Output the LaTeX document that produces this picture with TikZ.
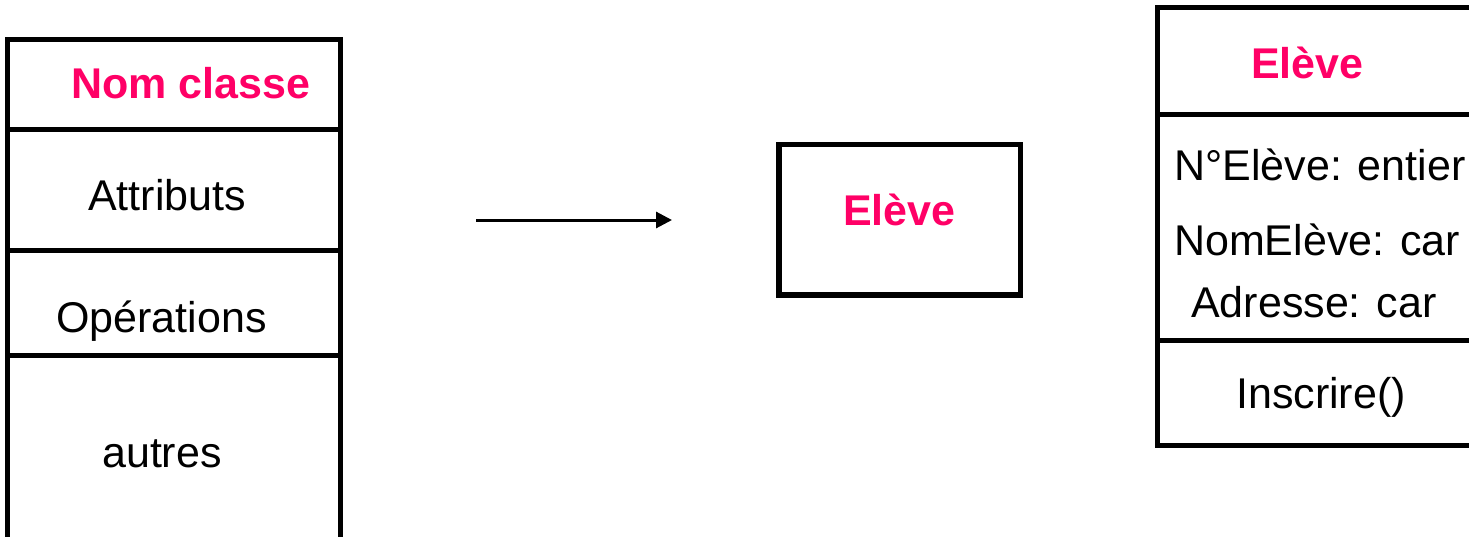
\documentclass[tikz,border=0pt]{standalone}
\usepackage{fontspec}
\setmainfont{Liberation Sans}
\usetikzlibrary{arrows.meta}
\definecolor{rose}{HTML}{FF0066}
\tikzset{
  cadre/.style={line width=5pt, draw=black},
  titre/.style={text=rose, font=\fontsize{43}{50}\selectfont\bfseries, anchor=base west, inner sep=0pt},
  texte/.style={font=\fontsize{43}{50}\selectfont, anchor=base west, inner sep=0pt},
}

\begin{document}
\begin{tikzpicture}[x=1pt,y=-1pt]
  \useasboundingbox (0,0) rectangle (1469,536);
  \clip (0,0) rectangle (1469,536);
  % classe generique
  \draw[cadre] (7.5,39.5) rectangle (340.5,580);
  \draw[cadre] (7.5,129.5) -- (340.5,129.5);
  \draw[cadre] (7.5,250.5) -- (340.5,250.5);
  \draw[cadre] (7.5,355.5) -- (340.5,355.5);
  \node[titre] (nomclasse) at (71,98) {Nom classe};
  \node[texte] (attributs) at (88,210) {Attributs};
  \node[texte] (operations) at (56,332) {Opérations};
  \node[texte] (autres) at (102,467) {autres};
  % fleche
  \coordinate (depart) at (476,220);
  \coordinate (arrivee) at (672,220);
  \draw[-{Triangle[length=16pt,width=16pt]}, line width=3pt] (depart) -- (arrivee);
  % classe simple
  \draw[cadre, line width=5.5pt] (779,144.5) rectangle (1020.5,295);
  \node[titre] (eleve) at (843,225) {Elève};
  % classe detaillee
  \draw[cadre] (1157.5,7.5) rectangle (1500,445.5);
  \draw[cadre] (1157.5,114) -- (1500,114);
  \draw[cadre] (1157.5,340) -- (1500,340);
  \node[titre] (elevetitre) at (1251,78) {Elève};
  \node[texte] (numero) at (1174,180) {N°Elève: entier};
  \node[texte] (nom) at (1174,255) {NomElève: car};
  \node[texte] (adresse) at (1191,317) {Adresse: car};
  \node[texte] (inscrire) at (1236,408) {Inscrire()};
\end{tikzpicture}
\end{document}
